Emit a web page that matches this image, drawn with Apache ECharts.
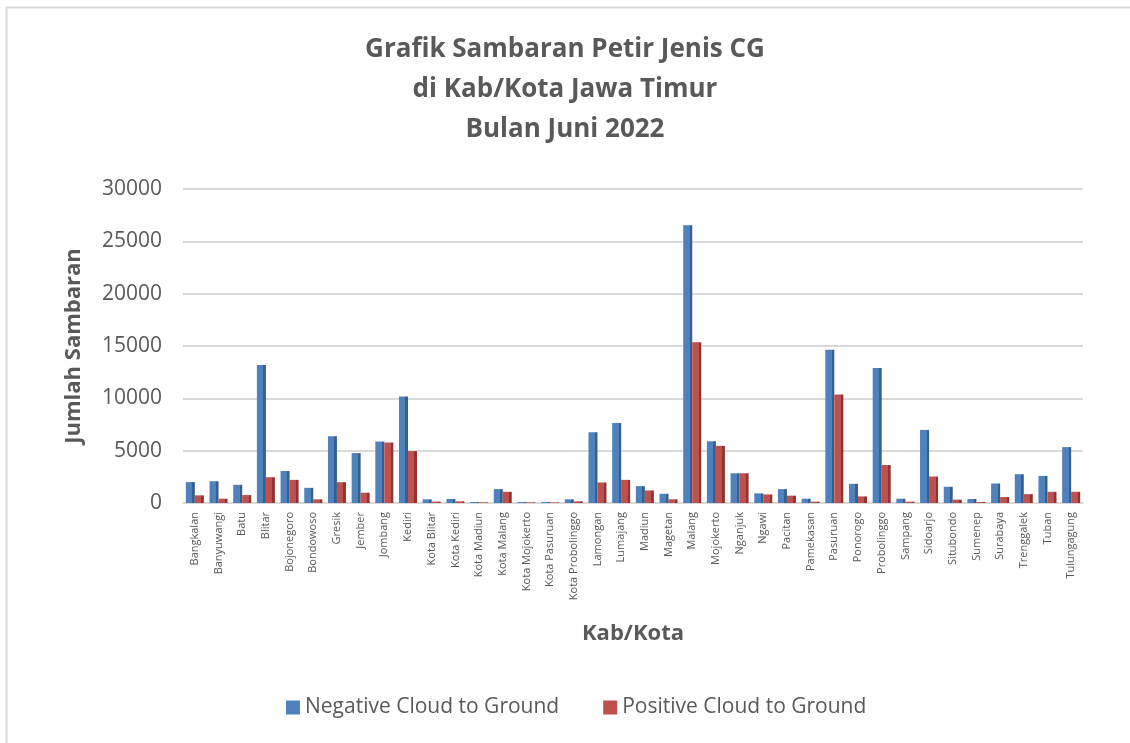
<!DOCTYPE html>
<html>
<head>
<meta charset="utf-8">
<script src="https://cdn.jsdelivr.net/npm/echarts@6/dist/echarts.min.js"></script>
<style>
  html, body { margin: 0; padding: 0; background: #fff; }
  #chart { width: 1130px; height: 743px; }
</style>
</head>
<body>
<div id="chart"></div>
<script>
const kabKota = [
  'Bangkalan', 'Banyuwangi', 'Batu', 'Blitar', 'Bojonegoro', 'Bondowoso', 'Gresik', 'Jember',
  'Jombang', 'Kediri', 'Kota Blitar', 'Kota Kediri', 'Kota Madiun', 'Kota Malang', 'Kota Mojokerto',
  'Kota Pasuruan', 'Kota Probolinggo', 'Lamongan', 'Lumajang', 'Madiun', 'Magetan', 'Malang',
  'Mojokerto', 'Nganjuk', 'Ngawi', 'Pacitan', 'Pamekasan', 'Pasuruan', 'Ponorogo', 'Probolinggo',
  'Sampang', 'Sidoarjo', 'Situbondo', 'Sumenep', 'Surabaya', 'Trenggalek', 'Tuban', 'Tulungagung'
];

// Negative Cloud to Ground
const negatifCG = [
  2000, 2080, 1740, 13180, 3060, 1450, 6380, 4770,
  5870, 10170, 350, 380, 90, 1330, 90,
  90, 350, 6760, 7640, 1610, 880, 26530,
  5900, 2840, 920, 1330, 410, 14650, 1830, 12890,
  410, 6980, 1550, 380, 1860, 2750, 2590, 5340
];

// Positive Cloud to Ground
const positifCG = [
  730, 410, 760, 2460, 2210, 350, 1990, 980,
  5780, 4960, 130, 160, 60, 1070, 60,
  60, 160, 1960, 2210, 1200, 350, 15350,
  5460, 2840, 820, 700, 130, 10360, 630, 3630,
  130, 2530, 320, 100, 570, 850, 1070, 1070
];

const yTicks = [0, 5000, 10000, 15000, 20000, 25000, 30000];

const chart = echarts.init(document.getElementById('chart'));

// flat colour with a darker right edge, gives a bit of the 3D look
const face = (c, dark) => new echarts.graphic.LinearGradient(0, 0, 1, 0, [
  { offset: 0, color: c },
  { offset: 0.72, color: c },
  { offset: 0.72, color: dark },
  { offset: 1, color: dark }
]);

const option = {
  backgroundColor: '#fff',
  animation: false,
  textStyle: { fontFamily: 'Open Sans', color: '#595959' },
  title: {
    text: 'Grafik Sambaran Petir Jenis CG\ndi Kab/Kota Jawa Timur\nBulan Juni 2022',
    left: 'center',
    top: 25,
    textStyle: {
      fontFamily: 'Open Sans',
      fontSize: 26,
      fontWeight: 'bold',
      color: '#595959',
      lineHeight: 40
    }
  },
  legend: {
    bottom: 20,
    left: 281,
    itemWidth: 14,
    itemHeight: 14,
    itemGap: 44,
    icon: 'rect',
    textStyle: { fontSize: 21, color: '#595959', fontFamily: 'Open Sans' },
    data: [
      { name: 'Negative Cloud to Ground', itemStyle: { color: '#4f81bd' } },
      { name: 'Positive Cloud to Ground', itemStyle: { color: '#c0504d' } }
    ]
  },
  grid: { left: 183, right: 47, top: 189, bottom: 240 },
  xAxis: {
    type: 'category',
    data: kabKota,
    name: 'Kab/Kota',
    nameLocation: 'middle',
    nameGap: 120,
    nameTextStyle: { fontSize: 22, fontWeight: 'bold', color: '#595959' },
    axisLine: { lineStyle: { color: '#d9d9d9', width: 2 } },
    axisTick: { show: false },
    axisLabel: { rotate: 90, fontSize: 11, color: '#595959', margin: 9, interval: 0 }
  },
  yAxis: {
    type: 'value',
    min: yTicks[0],
    max: yTicks[yTicks.length - 1],
    interval: 5000,
    name: 'Jumlah Sambaran',
    nameLocation: 'middle',
    nameGap: 98,
    nameTextStyle: { fontSize: 22, fontWeight: 'bold', color: '#595959' },
    axisLabel: { fontSize: 21, color: '#595959', margin: 21, formatter: v => String(v) },
    axisLine: { show: false },
    axisTick: { show: false },
    splitLine: { lineStyle: { color: '#d9d9d9', width: 2 } }
  },
  series: [
    {
      name: 'Negative Cloud to Ground',
      type: 'bar',
      data: negatifCG,
      barWidth: 9,
      barGap: '0%',
      itemStyle: { color: face('#4f81bd', '#355f91') }
    },
    {
      name: 'Positive Cloud to Ground',
      type: 'bar',
      data: positifCG,
      barWidth: 9,
      itemStyle: { color: face('#c0504d', '#8f3431') }
    }
  ],
  graphic: [{
    type: 'rect',
    shape: { x: 6.5, y: 7.5, width: 1140, height: 760 },
    style: { fill: null, stroke: '#d9d9d9', lineWidth: 2 },
    silent: true
  }]
};

chart.setOption(option);
</script>
</body>
</html>
